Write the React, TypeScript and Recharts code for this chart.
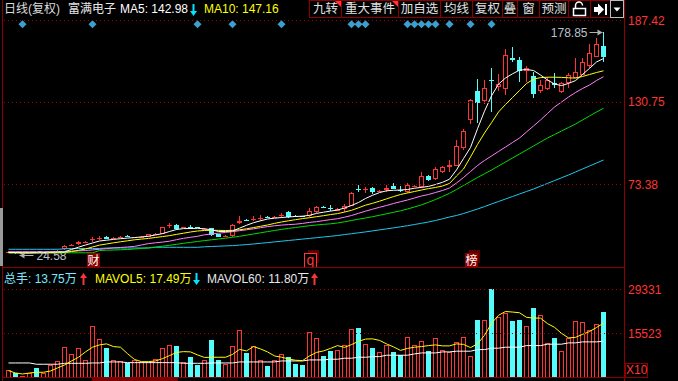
import React from 'react';
import { ComposedChart, Bar, Line, XAxis, YAxis, ReferenceDot } from 'recharts';

const RED = '#ff3434';
const CYAN = '#54fcfc';
const GRID = '#a00000';
const FRAME = '#8c0000';
const DIAMOND = '#3aa0d0';
const FONT = "'Liberation Sans', Arial, 'Noto Sans CJK SC', sans-serif";

// daily candles, oldest first
const opens = [
  26.2, 26.4, 25.7, 26.0, 26.3, 25.8, 26.1, 26.6,
  28.8, 31.0, 31.8, 33.3, 35.2, 36.3, 36.9, 36.3,
  36.8, 37.7, 36.6, 36.8, 37.1, 39.1, 38.9, 45.1,
  45.2, 43.3, 43.8, 43.5, 42.4, 42.9, 38.9, 37.5,
  37.8, 46.4, 48.7, 49.3, 50.0, 50.7, 50.5, 51.8,
  54.0, 51.7, 51.3, 51.5, 54.2, 57.6, 57.1, 55.1,
  56.1, 58.6, 70.1, 69.9, 70.7, 68.7, 69.5, 72.3,
  69.6, 68.3, 72.4, 71.4, 79.2, 77.1, 82.2, 85.2,
  86.2, 98.4, 118.1, 138.2, 131.4, 145.5, 140.9, 139.4,
  160.9, 159.7, 152.3, 148.8, 138.4, 139.4, 143.5, 137.7,
  143.5, 147.0, 149.3, 155.5, 162.0, 169.6,
];
const highs = [
  26.9, 26.8, 26.3, 26.6, 26.5, 26.4, 26.9, 27.8,
  31.3, 32.0, 34.3, 34.2, 36.7, 37.6, 37.3, 37.2,
  37.6, 38.3, 37.1, 37.3, 39.2, 40.0, 44.0, 46.8,
  46.1, 43.9, 45.0, 43.8, 43.2, 43.3, 39.2, 38.0,
  45.6, 51.5, 49.2, 51.5, 51.9, 51.2, 51.3, 53.7,
  54.9, 52.2, 51.8, 56.8, 58.4, 58.2, 59.1, 57.0,
  59.8, 68.3, 72.9, 71.8, 71.8, 69.8, 72.9, 74.2,
  72.3, 74.2, 73.2, 82.2, 80.0, 85.5, 86.0, 90.3,
  104.2, 111.6, 132.6, 146.3, 145.8, 153.9, 149.8, 167.3,
  168.9, 162.0, 155.7, 151.6, 145.8, 148.1, 150.5, 144.4,
  150.5, 160.9, 160.9, 170.6, 174.7, 178.85,
];
const lows = [
  25.6, 25.2, 24.58, 25.6, 25.5, 25.5, 25.9, 26.4,
  28.2, 30.4, 31.5, 32.9, 33.7, 34.8, 35.2, 35.8,
  36.3, 37.0, 36.3, 36.5, 36.9, 38.6, 38.7, 43.4,
  41.8, 43.0, 42.7, 43.1, 42.0, 37.8, 36.8, 37.2,
  37.1, 45.9, 47.8, 48.2, 48.2, 50.0, 50.0, 50.1,
  49.9, 50.6, 50.6, 50.9, 53.3, 57.0, 54.9, 54.8,
  54.5, 58.4, 67.9, 67.6, 66.5, 68.0, 68.3, 70.0,
  67.9, 67.6, 71.8, 70.7, 75.8, 76.5, 81.5, 82.2,
  86.0, 97.5, 115.3, 115.8, 129.2, 123.8, 138.2, 135.4,
  158.5, 144.6, 144.6, 133.1, 136.6, 138.9, 140.5, 136.8,
  140.0, 147.0, 149.3, 154.0, 161.5, 158.5,
];
const closes = [
  26.5, 25.6, 26.0, 26.3, 25.8, 26.1, 26.6, 27.4,
  30.6, 31.3, 33.7, 33.5, 35.4, 36.5, 35.5, 36.5,
  37.0, 37.5, 36.8, 37.0, 38.8, 39.3, 43.6, 45.3,
  42.3, 43.5, 43.5, 43.3, 42.8, 38.3, 37.1, 37.7,
  45.2, 48.2, 48.4, 49.5, 50.2, 50.5, 50.7, 52.0,
  50.9, 51.0, 51.0, 54.9, 57.7, 57.4, 56.9, 56.5,
  58.4, 67.6, 69.9, 70.1, 68.3, 68.9, 71.1, 70.2,
  69.4, 72.9, 72.6, 79.2, 76.5, 84.1, 85.2, 86.9,
  100.0, 110.4, 131.9, 129.6, 140.5, 145.1, 142.8, 163.1,
  159.5, 152.3, 153.9, 136.1, 142.3, 145.8, 142.3, 143.5,
  149.3, 151.6, 158.5, 164.3, 170.6, 161.6,
];

// moving-average lines
const ma5 = [
  26.16, 26.16, 25.81, 25.81, 26.02, 26.16, 26.30, 26.50,
  26.71, 28.24, 29.83, 31.36, 32.75, 34.13, 34.69, 35.24,
  35.73, 36.14, 36.49, 36.98, 37.46, 38.29, 39.26, 40.72,
  42.10, 42.73, 42.80, 42.94, 42.59, 41.90, 40.72, 40.72,
  41.07, 43.01, 45.02, 46.82, 48.14, 49.39, 49.95, 50.43,
  50.78, 51.13, 51.34, 51.96, 53.28, 54.11, 54.87, 55.63,
  57.02, 58.76, 60.84, 63.61, 65.83, 67.70, 68.95, 69.30,
  69.51, 69.85, 70.75, 71.31, 72.00, 73.32, 74.85, 77.00,
  83.45, 91.28, 98.99, 111.96, 124.16, 134.84, 142.89, 147.19,
  150.10, 152.60, 153.08, 152.39, 149.27, 145.80, 143.03, 141.92,
  143.44, 145.39, 149.62, 153.85, 158.29, 160.71,
];
const ma10 = [
  25.95, 25.95, 25.95, 25.95, 25.95, 25.95, 25.95, 25.95,
  26.16, 26.85, 27.68, 28.58, 29.97, 31.29, 32.05, 32.88,
  33.58, 34.27, 34.96, 35.45, 35.94, 36.56, 37.19, 37.88,
  38.71, 39.54, 40.38, 41.07, 41.42, 41.56, 41.49, 41.42,
  41.49, 41.90, 42.59, 43.43, 44.33, 45.23, 46.34, 47.31,
  48.14, 48.91, 49.67, 50.29, 50.99, 51.68, 52.44, 53.14,
  54.18, 55.43, 57.16, 58.96, 60.28, 61.74, 63.34, 64.93,
  66.39, 67.43, 68.47, 69.51, 70.48, 71.24, 72.28, 74.02,
  79.22, 84.07, 92.40, 101.07, 109.04, 116.19, 123.61, 128.81,
  133.67, 138.52, 143.37, 146.36, 147.47, 147.75, 147.75, 147.61,
  147.33, 147.12, 148.23, 149.62, 151.00, 152.18,
];
const ma20 = [
  26.71, 26.71, 26.71, 26.71, 26.71, 26.71, 26.71, 26.71,
  26.85, 27.06, 27.27, 27.54, 27.96, 28.37, 28.86, 29.34,
  29.62, 29.97, 30.39, 31.36, 32.33, 32.88, 33.37, 33.99,
  35.03, 36.00, 36.70, 37.39, 38.43, 38.99, 39.54, 40.10,
  40.58, 41.28, 41.90, 42.59, 43.36, 44.12, 44.67, 45.16,
  45.51, 45.78, 46.34, 47.03, 47.52, 48.28, 48.97, 49.60,
  50.64, 51.82, 53.34, 54.80, 56.19, 57.51, 58.76, 60.14,
  61.39, 62.57, 63.96, 65.34, 66.39, 67.77, 69.16, 70.89,
  74.36, 78.17, 82.33, 86.50, 89.97, 93.09, 96.21, 99.33,
  102.45, 105.57, 109.73, 113.90, 118.06, 122.57, 127.08, 130.54,
  134.01, 137.13, 139.90, 142.33, 145.45, 148.09,
];
const ma30 = [
  25.95, 25.95, 25.95, 25.95, 25.95, 25.95, 25.95, 25.95,
  25.95, 25.95, 25.95, 25.95, 25.95, 27.54, 27.75, 27.89,
  28.03, 28.24, 28.58, 28.99, 29.41, 29.97, 30.53, 31.15,
  31.84, 32.54, 33.16, 33.78, 34.41, 34.96, 35.52, 36.07,
  36.70, 37.39, 38.16, 38.99, 39.82, 40.65, 41.42, 42.18,
  42.87, 43.50, 44.12, 44.75, 45.23, 45.65, 46.06, 46.62,
  47.45, 48.35, 49.26, 50.09, 50.99, 51.96, 53.00, 54.04,
  55.08, 56.33, 57.72, 59.24, 60.97, 62.92, 65.00, 67.22,
  69.85, 72.63, 75.40, 78.17, 80.74, 83.38, 86.15, 88.93,
  91.70, 94.48, 97.25, 100.02, 102.80, 105.57, 108.00, 110.43,
  112.86, 115.28, 118.06, 120.83, 123.61, 126.17,
];
const ma60 = [
  28.38, 28.38, 28.38, 28.38, 28.38, 28.38, 28.38, 28.38,
  28.72, 28.93, 28.93, 28.93, 28.93, 28.93, 29.28, 29.28,
  29.28, 29.28, 29.28, 29.28, 29.28, 29.76, 29.76, 29.76,
  29.76, 29.76, 29.76, 29.76, 30.11, 30.32, 30.53, 30.73,
  30.94, 31.29, 31.64, 32.05, 32.54, 33.02, 33.51, 33.99,
  34.48, 34.96, 35.45, 35.94, 36.42, 36.91, 37.39, 37.95,
  38.57, 39.20, 39.82, 40.44, 41.14, 41.83, 42.52, 43.22,
  43.98, 44.75, 45.58, 46.41, 47.31, 48.35, 49.53, 50.78,
  51.82, 53.21, 54.73, 56.33, 57.99, 59.80, 61.53, 63.26,
  65.00, 66.73, 68.47, 70.20, 72.14, 74.08, 76.03, 77.97,
  79.91, 81.99, 84.07, 86.15, 88.23, 90.31,
];

// volume panel (units of 10 hands)
const vols = [
  4000, 3160, 2000, 3160, 4540, 3160, 5580, 6830,
  11130, 9030, 10820, 7150, 17810, 13730, 10910, 7150,
  6830, 6110, 7150, 6420, 6420, 7360, 10820, 11750,
  11530, 6530, 8090, 5580, 7150, 13420, 7150, 5890,
  11530, 16560, 9340, 11530, 7040, 5260, 7150, 9030,
  8090, 5890, 5580, 15840, 13950, 8400, 9970, 10280,
  11850, 16870, 17190, 12170, 10910, 9660, 11850, 9660,
  8620, 14270, 11850, 13110, 9970, 13950, 10280, 9760,
  12900, 14460, 8400, 19700, 19700, 29331, 20550, 21800,
  19380, 19700, 17810, 23460, 21270, 12590, 13860, 9970,
  13860, 19380, 18960, 16560, 18440, 22210,
];
const mavol5 = [
  3790, 3070, 2750, 3070, 3290, 3290, 3690, 4640,
  5580, 6830, 7990, 9660, 11130, 11850, 12170, 11320,
  11130, 9120, 7300, 6610, 6610, 6830, 7550, 8500,
  9500, 9750, 9660, 8710, 7930, 7990, 7990, 7990,
  8870, 10440, 9970, 11320, 10600, 9660, 8400, 7990,
  7460, 7050, 6930, 8400, 9500, 9970, 10750, 11630,
  11070, 11950, 12950, 13670, 13740, 13260, 12170, 11230,
  10130, 10750, 11130, 11320, 11630, 11850, 11540, 11540,
  12170, 12010, 11000, 12170, 14830, 18600, 21110, 22300,
  22120, 21900, 20480, 20230, 20230, 18510, 17350, 15460,
  14050, 14210, 15150, 16030, 17280, 18660,
];
const mavol60 = [
  6200, 6200, 6200, 6200, 5800, 5800, 5800, 5800,
  6100, 6100, 6100, 6100, 6200, 6200, 6520, 6520,
  6520, 6300, 6300, 6300, 6300, 6300, 6300, 6300,
  6300, 6100, 6100, 6100, 6100, 6200, 6200, 6200,
  6200, 6520, 6520, 6520, 6520, 6520, 6520, 6830,
  6830, 6830, 6830, 7150, 7150, 7150, 7370, 7370,
  7680, 7680, 7990, 7990, 8180, 8180, 8620, 8620,
  8620, 8620, 9030, 9340, 9340, 9340, 9660, 9660,
  9880, 9880, 9880, 10380, 10380, 10820, 10820, 11130,
  11130, 11130, 11630, 11630, 11630, 12070, 12070, 12070,
  12480, 12480, 12790, 12790, 12790, 13010,
];

const eventIdx = [2, 12, 27, 32, 39, 49, 50, 51, 57, 58, 59, 60, 61, 63, 66, 69];
const tags = [
  { i: 12, text: '财', outline: false, shadow: false },
  { i: 43, text: 'q', outline: true, shadow: true },
  { i: 66, text: '榜', outline: false, shadow: true },
];
const priceTicks = [73.38, 130.75, 187.42];
const volTicks = [15523, 29331];
const PRICE_DOMAIN = [16.79, 187.42];
const VOL_DOMAIN = [1497, 29331];
const EVENT_LEVEL = 184.44;
const TAG_LEVEL = 20.95;

const rows = opens.map((o, i) => ({
  i,
  o,
  h: highs[i],
  l: lows[i],
  c: closes[i],
  range: [lows[i], highs[i]],
  ma5: ma5[i],
  ma10: ma10[i],
  ma20: ma20[i],
  ma30: ma30[i],
  ma60: ma60[i],
  vol: vols[i],
  mv5: mavol5[i],
  mv60: mavol60[i],
  evt: eventIdx.includes(i) ? EVENT_LEVEL : null,
}));

const maxIdx = highs.indexOf(Math.max(...highs));
const minIdx = lows.indexOf(Math.min(...lows));

function Candle(props: any) {
  const { x, y, width, height, payload } = props;
  if (x == null || y == null) return <g />;
  const top = Math.min(y, y + height);
  const bot = Math.max(y, y + height);
  const span = payload.h - payload.l || 1;
  const py = (v: number) => top + ((payload.h - v) / span) * (bot - top);
  const up = payload.c >= payload.o;
  const col = up ? RED : CYAN;
  const cx = Math.floor(x + width / 2) + 0.5;
  const bt = Math.round(py(Math.max(payload.o, payload.c)));
  const bb = Math.max(Math.round(py(Math.min(payload.o, payload.c))), bt + 1);
  return (
    <g>
      <line x1={cx} x2={cx} y1={Math.round(top)} y2={bt} stroke={col} />
      <line x1={cx} x2={cx} y1={bb} y2={Math.round(bot)} stroke={col} />
      {bb - bt <= 1 ? (
        <line x1={cx - 2.5} x2={cx + 2.5} y1={bt + 0.5} y2={bt + 0.5} stroke={col} />
      ) : up ? (
        <rect x={cx - 2} y={bt + 0.5} width={4} height={bb - bt - 1} fill="#000" stroke={col} />
      ) : (
        <rect x={cx - 2.5} y={bt} width={5} height={bb - bt} fill={col} />
      )}
    </g>
  );
}

function VolBar(props: any) {
  const { x, y, width, height, payload } = props;
  if (x == null || height <= 0) return <g />;
  const up = payload.c >= payload.o;
  const left = Math.round(x);
  const t = Math.round(y);
  const h = Math.round(y + height) - t;
  return up ? (
    <rect x={left + 0.5} y={t + 0.5} width={width - 1} height={h - 1} fill="#000" stroke={RED} />
  ) : (
    <rect x={left} y={t} width={width} height={h} fill={CYAN} />
  );
}

function Diamond(props: any) {
  const { cx, cy, payload } = props;
  if (!payload || payload.evt == null || cx == null || cy == null) return <g />;
  const r = 4;
  return <path d={`M${cx},${cy - r}L${cx + r},${cy}L${cx},${cy + r}L${cx - r},${cy}Z`} fill={DIAMOND} />;
}

function PriceTick(props: any) {
  const { y, payload } = props;
  const yy = Math.round(y) + 0.5;
  return (
    <g>
      <line x1={4} x2={624} y1={yy} y2={yy} stroke={GRID} strokeDasharray="1 3" />
      <text x={628} y={y + 4.5} fill={RED} fontSize={12} fontFamily={FONT}>
        {Number(payload.value).toFixed(2)}
      </text>
    </g>
  );
}

function VolTick(props: any) {
  const { y, payload } = props;
  const yy = Math.round(y) + 0.5;
  return (
    <g>
      <line x1={4} x2={624} y1={yy} y2={yy} stroke={GRID} strokeDasharray="1 3" />
      <text x={628} y={y + 4.5} fill={RED} fontSize={12} fontFamily={FONT}>
        {String(payload.value)}
      </text>
    </g>
  );
}

function MaxLabel(props: any) {
  const { cx, cy } = props;
  const y = Math.round(cy) + 0.5;
  return (
    <g>
      <line x1={cx - 14} x2={cx - 1} y1={y} y2={y} stroke="#b0b0b0" />
      <path d={`M${cx - 1},${y}L${cx - 6},${y - 3}L${cx - 6},${y + 3}Z`} fill="#b0b0b0" />
      <text x={cx - 16} y={y + 4.5} textAnchor="end" fill="#b8c0cc" fontSize={12} fontFamily={FONT}>
        {highs[maxIdx].toFixed(2)}
      </text>
    </g>
  );
}

function MinLabel(props: any) {
  const { cx, cy } = props;
  const y = Math.round(cy) + 0.5;
  return (
    <g>
      <line x1={cx - 3} x2={cx + 11} y1={y} y2={y} stroke="#b0b0b0" />
      <path d={`M${cx - 3},${y}L${cx + 2},${y - 3}L${cx + 2},${y + 3}Z`} fill="#b0b0b0" />
      <text x={cx + 14} y={y + 4.5} fill="#b8c0cc" fontSize={12} fontFamily={FONT}>
        {lows[minIdx].toFixed(2)}
      </text>
    </g>
  );
}

function Tag(props: any) {
  const { cx, cy, text, outline, shadow } = props;
  const x = Math.round(cx) - 6;
  const y = Math.round(cy) - 7;
  return (
    <g>
      {shadow && <rect x={x + 4} y={y - 3} width={11} height={13} fill="#5a0000" />}
      {outline ? (
        <rect x={x + 0.5} y={y + 0.5} width={12} height={14} fill="#000" stroke={RED} />
      ) : (
        <rect x={x} y={y} width={13} height={15} fill="#8a0000" />
      )}
      <text x={x + 6.5} y={y + 12} textAnchor="middle" fontSize={outline ? 14 : 12} fill={outline ? RED : '#fff'} fontFamily={FONT}>
        {text}
      </text>
    </g>
  );
}

// thick arrow glyph, like the terminal's up/down markers
function Arrow({ left, top, color, up }: { left: number; top: number; color: string; up: boolean }) {
  const d = up ? 'M3.5,0 L7,5 L4.5,5 L4.5,12 L2.5,12 L2.5,5 L0,5 Z' : 'M2.5,0 L4.5,0 L4.5,7 L7,7 L3.5,12 L0,7 L2.5,7 Z';
  return (
    <svg width={7} height={12} style={{ position: 'absolute', left, top }}>
      <path d={d} fill={color} />
    </svg>
  );
}

const buttons = [
  { t: '九转', l: 309, r: 341, flag: true },
  { t: '重大事件', l: 341, r: 398, flag: true },
  { t: '加自选', l: 398, r: 440, flag: false },
  { t: '均线', l: 440, r: 472, flag: false },
  { t: '复权', l: 472, r: 502, flag: false },
  { t: '叠', l: 502, r: 517, flag: false },
  { t: '窗', l: 517, r: 539, flag: false },
  { t: '预测', l: 539, r: 568, flag: false },
];

const txt = (left: number, top: number, color: string, s: string) => (
  <div style={{ position: 'absolute', left, top, color, fontSize: 12, lineHeight: '18px', whiteSpace: 'nowrap' }}>{s}</div>
);

export default function App() {
  return (
    <div style={{ position: 'fixed', left: 0, top: 0, width: 678, height: 381, background: '#000', overflow: 'hidden', fontFamily: FONT }}>
      <div style={{ position: 'absolute', left: 0, top: 0 }}>
        <ComposedChart width={678} height={268} data={rows} margin={{ top: 20, right: 54, bottom: 2, left: 5 }}>
          <XAxis dataKey="i" hide />
          <YAxis
            orientation="right"
            width={17}
            domain={PRICE_DOMAIN}
            allowDataOverflow
            ticks={priceTicks}
            interval={0}
            axisLine={false}
            tickLine={false}
            tick={PriceTick}
          />
          <Bar dataKey="range" barSize={5} shape={Candle} isAnimationActive={false} />
          <Line type="linear" dataKey="ma60" stroke="#1ec8f0" strokeWidth={1} dot={false} activeDot={false} isAnimationActive={false} />
          <Line type="linear" dataKey="ma30" stroke="#00dd00" strokeWidth={1} dot={false} activeDot={false} isAnimationActive={false} />
          <Line type="linear" dataKey="ma20" stroke="#ff80ff" strokeWidth={1} dot={false} activeDot={false} isAnimationActive={false} />
          <Line type="linear" dataKey="ma10" stroke="#ffff00" strokeWidth={1} dot={false} activeDot={false} isAnimationActive={false} />
          <Line type="linear" dataKey="ma5" stroke="#ffffff" strokeWidth={1} dot={false} activeDot={false} isAnimationActive={false} />
          <Line dataKey="evt" stroke="none" dot={Diamond} activeDot={false} isAnimationActive={false} />
          <ReferenceDot x={maxIdx} y={highs[maxIdx]} r={0} ifOverflow="visible" shape={MaxLabel} />
          <ReferenceDot x={minIdx} y={lows[minIdx]} r={0} ifOverflow="visible" shape={MinLabel} />
          {tags.map((t) => (
            <ReferenceDot
              key={t.i}
              x={t.i}
              y={TAG_LEVEL}
              r={0}
              ifOverflow="visible"
              shape={(p: any) => <Tag {...p} text={t.text} outline={t.outline} shadow={t.shadow} />}
            />
          ))}
        </ComposedChart>
      </div>

      <div style={{ position: 'absolute', left: 0, top: 270 }}>
        <ComposedChart width={678} height={111} data={rows} margin={{ top: 19, right: 54, bottom: 3, left: 5 }}>
          <XAxis dataKey="i" hide />
          <YAxis
            orientation="right"
            width={17}
            domain={VOL_DOMAIN}
            allowDataOverflow
            ticks={volTicks}
            interval={0}
            axisLine={false}
            tickLine={false}
            tick={VolTick}
          />
          <Bar dataKey="vol" barSize={5} shape={VolBar} isAnimationActive={false} />
          <Line type="linear" dataKey="mv60" stroke="#ffffff" strokeWidth={1} dot={false} activeDot={false} isAnimationActive={false} />
          <Line type="linear" dataKey="mv5" stroke="#ffff00" strokeWidth={1} dot={false} activeDot={false} isAnimationActive={false} />
        </ComposedChart>
      </div>

      {/* frame */}
      <div style={{ position: 'absolute', left: 2, top: 0, width: 1, height: 381, background: FRAME }} />
      <div style={{ position: 'absolute', left: 0, top: 208, width: 3, height: 58, background: '#9a9a9a' }} />
      <div style={{ position: 'absolute', left: 624, top: 0, width: 1, height: 381, background: FRAME }} />
      <div style={{ position: 'absolute', left: 3, top: 267, width: 621, height: 1, background: FRAME }} />
      <div style={{ position: 'absolute', left: 3, top: 377, width: 621, height: 1, background: FRAME }} />
      <div style={{ position: 'absolute', left: 92, top: 378, width: 86, height: 3, background: '#7a0000' }} />

      {/* header */}
      {txt(4, 0, '#dcdcdc', '日线(复权)')}
      {txt(68, 0, '#e8e8e8', '富满电子')}
      {txt(120, 0, '#ffffff', 'MA5: 142.98')}
      <Arrow left={190} top={4} color="#00e5ff" up={false} />
      {txt(204, 0, '#ffff00', 'MA10: 147.16')}

      {buttons.map((b) => (
        <div
          key={b.t}
          style={{
            position: 'absolute',
            left: b.l,
            top: 0,
            width: b.r - b.l - 1,
            height: 16,
            border: `1px solid ${FRAME}`,
            color: '#e0e0e0',
            fontSize: 12.5,
            lineHeight: '16px',
            textAlign: 'center',
            overflow: 'hidden',
          }}
        >
          {b.t}
          {b.flag && (
            <div
              style={{
                position: 'absolute',
                right: 0,
                top: 0,
                width: 0,
                height: 0,
                borderTop: `6px solid ${RED}`,
                borderLeft: '6px solid transparent',
              }}
            />
          )}
        </div>
      ))}
      <div style={{ position: 'absolute', left: 568, top: 0, width: 21, height: 16, border: `1px solid ${FRAME}` }}>
        <svg width={21} height={16}>
          <path d="M6.5,8 V4.5 A3.5,3.5 0 0 1 13.5,4.5" fill="none" stroke="#fff" strokeWidth={1.5} />
          <rect x={4.5} y={7.5} width={12} height={7} fill="none" stroke="#fff" strokeWidth={1.5} />
        </svg>
      </div>
      <div style={{ position: 'absolute', left: 590, top: 0, width: 19, height: 16, border: `1px solid ${FRAME}` }}>
        <svg width={19} height={16}>
          <rect x={3} y={6} width={4} height={5} fill="#fff" />
          <path d="M7,2.5 L13,8.5 L7,14.5 Z" fill="#fff" />
          <rect x={14} y={3} width={2} height={11} fill="#fff" />
        </svg>
      </div>
      <div style={{ position: 'absolute', left: 610, top: 0, width: 12, height: 16, border: '1px solid #bdbdbd' }}>
        <svg width={12} height={16}>
          <path d="M2.5,6.5 L9.5,6.5 L6,10.5 Z" fill="#fff" />
        </svg>
      </div>

      {/* volume header */}
      {txt(4, 270, '#7ee6ff', '总手: 13.75万')}
      <Arrow left={80} top={273} color={RED} up />
      {txt(95, 270, '#ffff00', 'MAVOL5: 17.49万')}
      <Arrow left={193} top={273} color="#00e5ff" up={false} />
      {txt(207, 270, '#e8e8e8', 'MAVOL60: 11.80万')}
      <Arrow left={311} top={273} color={RED} up />

      <div
        style={{
          position: 'absolute',
          left: 625,
          top: 363,
          width: 21,
          height: 13,
          border: `1px solid ${FRAME}`,
          color: RED,
          fontSize: 12,
          lineHeight: '13px',
          textAlign: 'center',
        }}
      >
        X10
      </div>
    </div>
  );
}
